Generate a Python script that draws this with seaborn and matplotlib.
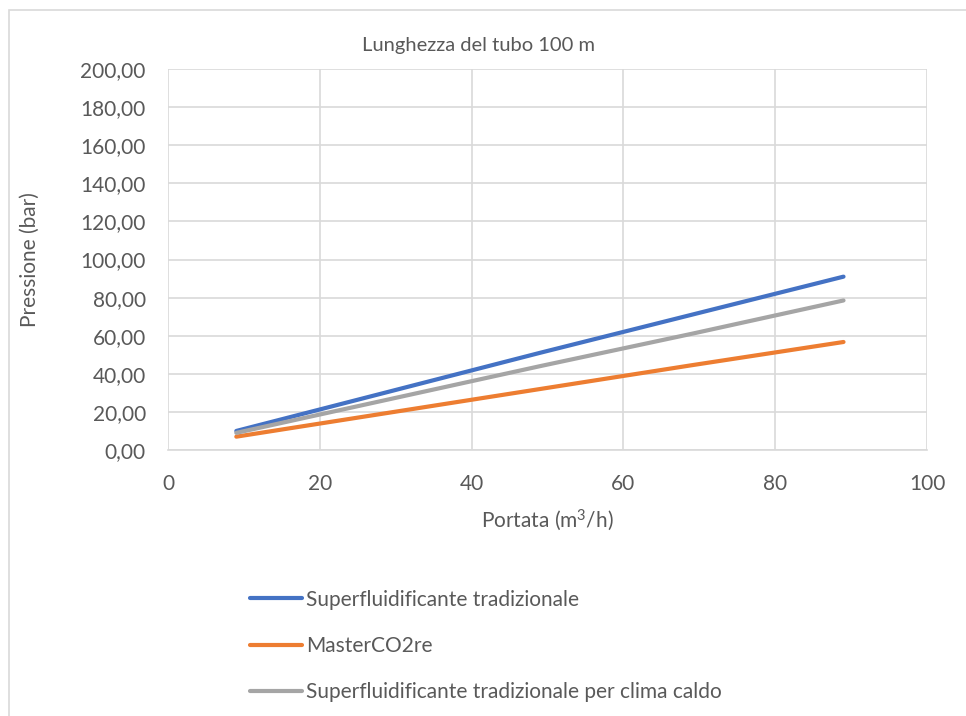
import numpy as np
import pandas as pd
import matplotlib
matplotlib.use("Agg")
import matplotlib.pyplot as plt
import seaborn as sns
from matplotlib.ticker import FuncFormatter
from matplotlib.patches import Rectangle
from matplotlib.lines import Line2D

portata = [9, 29, 49, 69, 89]
tradizionale = [10.0, 30.5, 51.0, 71.0, 91.0]
masterco2re = [7.0, 19.5, 32.0, 44.5, 56.7]
clima_caldo = [9.0, 26.5, 44.0, 61.0, 78.5]
series_names = ["Superfluidificante tradizionale", "MasterCO2re",
                "Superfluidificante tradizionale per clima caldo"]
colors = ["#4472C4", "#ED7D31", "#A5A5A5"]

df = pd.DataFrame({
    "Portata": portata * 3,
    "Pressione": tradizionale + masterco2re + clima_caldo,
    "Serie": [series_names[0]] * 5 + [series_names[1]] * 5 + [series_names[2]] * 5,
})

sns.set_theme(style="white")
plt.rcParams["font.family"] = ["Lato", "DejaVu Sans"]
plt.rcParams["mathtext.fontset"] = "custom"
plt.rcParams["mathtext.rm"] = "Lato"
plt.rcParams["mathtext.it"] = "Lato"
plt.rcParams["mathtext.bf"] = "Lato:bold"
txt = "#595959"
fs = 15

fig = plt.figure(figsize=(9.66, 7.16), dpi=100)
ax = fig.add_axes([168 / 966, 1 - 450 / 716, (927 - 168) / 966, (450 - 69) / 716])

sns.lineplot(data=df, x="Portata", y="Pressione", hue="Serie",
             palette=dict(zip(series_names, colors)), linewidth=3,
             ax=ax, legend=False)
for l in ax.lines:
    l.set_solid_capstyle("round")

ax.set_xlim(0, 100)
ax.set_ylim(0, 200)
ax.set_xticks(np.arange(0, 101, 20))
ax.set_yticks(np.arange(0, 201, 20))
ax.yaxis.set_major_formatter(FuncFormatter(lambda v, p: f"{v:.2f}".replace(".", ",")))
ax.grid(True, color="#d9d9d9", linewidth=1.2)
ax.set_axisbelow(True)
for s in ax.spines.values():
    s.set_visible(False)
ax.spines["bottom"].set_visible(True)
ax.spines["bottom"].set_color("#d9d9d9")
ax.spines["bottom"].set_linewidth(1.2)
ax.tick_params(axis="both", length=0, labelsize=fs, labelcolor=txt)
ax.tick_params(axis="y", pad=16)
ax.tick_params(axis="x", pad=17)

ax.set_xlabel("")
ax.set_ylabel("")
fig.text(547 / 966, 1 - 520 / 716, r"Portata (m$^{\mathrm{3}}$/h)", ha="center", va="center",
         fontsize=fs, color=txt)
fig.text(30 / 966, 1 - 260 / 716, "Pressione (bar)", ha="center", va="center",
         rotation=90, fontsize=fs, color=txt)
fig.text(478 / 966, 1 - 46 / 716, "Lunghezza del tubo 100 m", ha="center", va="center",
         fontsize=14.5, color=txt)

hs = [Line2D([0], [0], color=c, linewidth=3) for c in colors]
leg = fig.legend(hs, series_names, loc="upper left", bbox_to_anchor=(231 / 966, 1 - 571 / 716),
                 frameon=False, fontsize=fs, labelcolor=txt, handlelength=2.5,
                 handletextpad=0.2, labelspacing=1.25)

fig.patches.append(Rectangle((9 / 966, -0.01), 1.0, 1 - 10 / 716 + 0.01, transform=fig.transFigure,
                             fill=False, edgecolor="#d9d9d9", linewidth=1.2))

fig.savefig("out.png", dpi=100, facecolor="white")
